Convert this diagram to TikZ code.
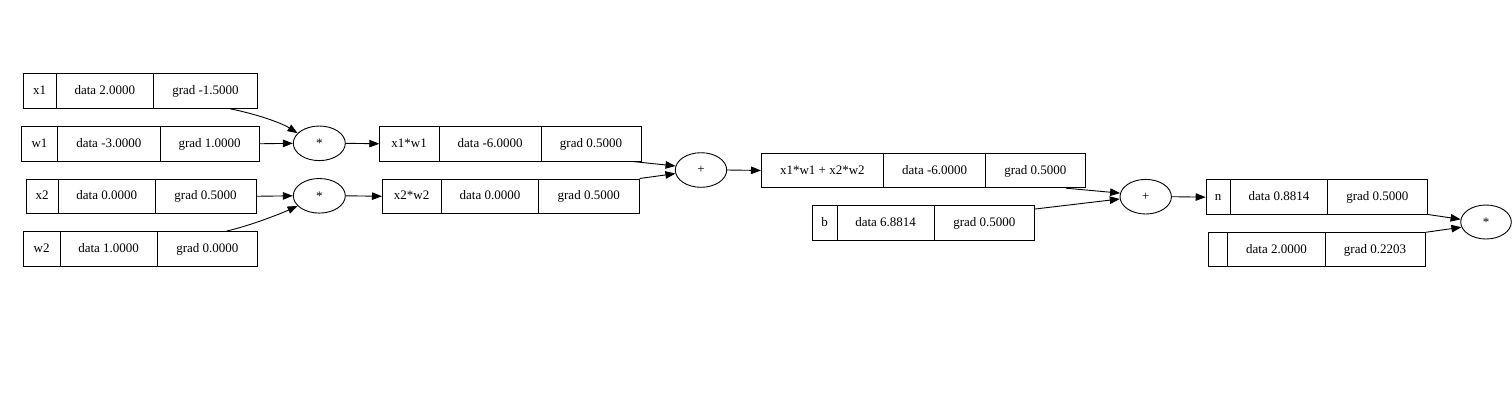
\documentclass[tikz,border=0pt]{standalone}
\usepackage{fontspec}
\setmainfont{Liberation Serif}
\usetikzlibrary{arrows.meta,calc,shapes.geometric}
\tikzset{
  recbox/.style={draw=black, line width=0.9pt, rectangle, inner sep=0pt, anchor=north west},
  divider/.style={draw=black, line width=0.9pt},
  txt/.style={inner sep=0pt, text height=10.6pt, text depth=2.6pt, font=\fontsize{13}{15}\selectfont},
  op/.style={draw=black, line width=0.9pt, ellipse, inner sep=0pt, minimum width=52pt, minimum height=34.6pt, font=\fontsize{13}{15}\selectfont},
  edge/.style={draw=black, line width=0.9pt, -{Triangle[length=10pt,width=7.5pt]}},
}
% name, xl, d1, d2, xr, ytop, label, data, grad
\newcommand{\rec}[9]{%
  \node[recbox, minimum width={(#5-#2)*1pt}, minimum height=34.6pt] (#1) at (#2,#6) {};
  \draw[divider] (#3,#6) -- ++(0,34.6);
  \draw[divider] (#4,#6) -- ++(0,34.6);
  \node[txt] (#1-l) at ({(#2+#3)/2},{#6+17.3}) {#7};
  \node[txt] (#1-d) at ({(#3+#4)/2},{#6+17.3}) {#8};
  \node[txt] (#1-g) at ({(#4+#5)/2},{#6+17.3}) {#9};
}
\begin{document}
\begin{tikzpicture}[x=1pt,y=-1pt]
\useasboundingbox (0,0) rectangle (1512,400);
\rec{x1}{23.3}{56}{153.7}{257.3}{73.3}{x1}{data 2.0000}{grad -1.5000}
\rec{w1}{21.3}{57.7}{160}{259.3}{126}{w1}{data -3.0000}{grad 1.0000}
\rec{x2}{25.7}{58.3}{155.3}{255.7}{178.5}{x2}{data 0.0000}{grad 0.5000}
\rec{w2}{23.3}{60}{157.3}{257.3}{231}{w2}{data 1.0000}{grad 0.0000}
\node[op] (m1) at (319.3,143.3) {*};
\node[op] (m2) at (319.3,195.8) {*};
\rec{x1w1}{379.3}{439}{541.3}{640.7}{126}{x1*w1}{data -6.0000}{grad 0.5000}
\rec{x2w2}{382}{441.3}{538.7}{638.7}{178.5}{x2*w2}{data 0.0000}{grad 0.5000}
\node[op, minimum width=51.4pt] (p1) at (701,170) {+};
\rec{sum}{761}{883.7}{985.7}{1085}{152.7}{x1*w1 + x2*w2}{data -6.0000}{grad 0.5000}
\rec{b}{812.3}{837}{934.3}{1034.3}{205}{b}{data 6.8814}{grad 0.5000}
\node[op, minimum width=51.4pt] (p2) at (1145.7,196.7) {+};
\rec{n}{1205.7}{1230.3}{1327.7}{1427}{179.4}{n}{data 0.8814}{grad 0.5000}
\rec{u}{1207.7}{1227.7}{1325.3}{1424.7}{231.8}{}{data 2.0000}{grad 0.2203}
\node[op, minimum width=50.6pt, minimum height=34pt] (m3) at (1486,222) {*};
% edges
\draw[edge] ($(x1.south west)+(206.7,0)$) .. controls (252,113) and (280,122) .. (m1.155);
\draw[edge] (w1.east) -- (m1.west);
\draw[edge] (x2.east) -- (m2.west);
\draw[edge] ($(w2.north west)+(203.4,0)$) .. controls (249,226) and (280,214) .. (m2.205);
\draw[edge] (m1.east) -- (x1w1.west);
\draw[edge] (m2.east) -- (x2w2.west);
\draw[edge] ($(x1w1.south east)+(-9,0)$) -- (p1.171);
\draw[edge] (x2w2.north east) -- (p1.188);
\draw[edge] (p1.east) -- (sum.west);
\draw[edge] ($(sum.south east)+(-20,0)$) -- (p2.172);
\draw[edge] ($(b.north east)+(0,4)$) -- (p2.185);
\draw[edge] (p2.east) -- (n.west);
\draw[edge] ($(n.south east)+(-0.5,-0.5)$) -- (m3.174);
\draw[edge] ($(u.north east)+(0,0.5)$) -- (m3.192);
\end{tikzpicture}
\end{document}
